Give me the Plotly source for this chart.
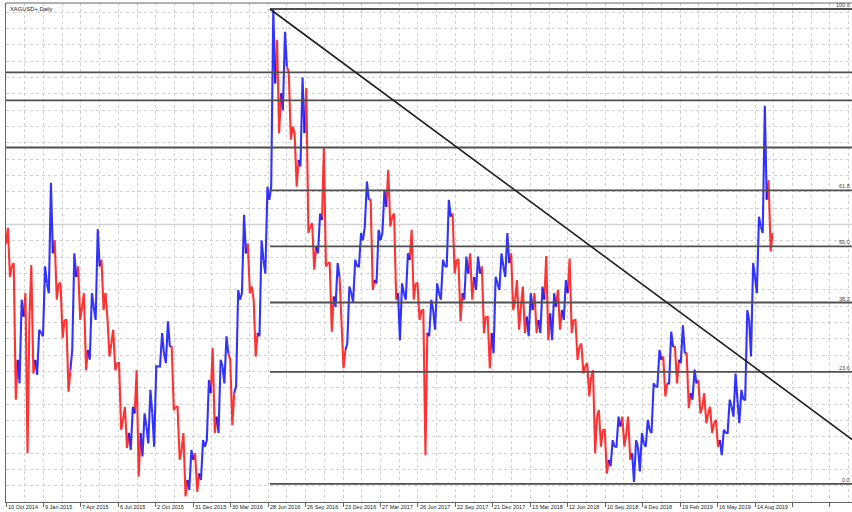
import plotly.graph_objects as go

# ---------------- data ----------------
title_text = "XAGUSD+,Daily"
date_labels = ["10 Oct 2014", "9 Jan 2015", "7 Apr 2015", "6 Jul 2015", "2 Oct 2015",
               "31 Dec 2015", "30 Mar 2016", "28 Jun 2016", "26 Sep 2016", "23 Dec 2016",
               "27 Mar 2017", "26 Jun 2017", "22 Sep 2017", "21 Dec 2017", "13 Mar 2018",
               "12 Jun 2018", "10 Sep 2018", "4 Dec 2018", "19 Feb 2019", "16 May 2019",
               "14 Aug 2019"]
bars_per_label = 64
bars_per_col = 10

first_open = 17.70
high = [17.95, 17.41, 16.85, 16.95, 17.38, 16.39, 17.36, 18.64, 17.76, 17.10,
        16.54, 17.56, 17.36, 16.95, 16.95, 17.93, 17.46, 16.59, 16.39, 15.88,
        15.21, 15.21, 15.77, 15.11, 15.47, 15.83, 16.34, 16.52, 16.13, 15.21,
        14.81, 14.55, 14.50, 14.70, 15.62, 16.11, 15.93, 16.29, 15.93, 17.00,
        18.15, 17.71, 16.85, 17.76, 18.58, 21.30, 20.83, 20.95, 20.34, 19.40,
        20.25, 20.09, 18.02, 18.17, 19.17, 17.41, 17.41, 16.44, 17.05, 17.46,
        17.87, 18.66, 18.38, 17.92, 18.53, 18.84, 18.17, 17.10, 17.56, 17.92,
        17.10, 16.69, 16.85, 17.10, 17.46, 18.38, 18.17, 17.46, 17.51, 17.56,
        17.51, 17.36, 16.59, 17.20, 17.56, 17.87, 17.56, 17.15, 17.05, 16.95,
        16.95, 17.05, 17.52, 16.95, 17.00, 17.15, 17.48, 16.54, 16.18, 15.88,
        15.77, 15.16, 14.86, 14.70, 15.06, 15.06, 15.06, 14.70, 14.81, 15.01,
        15.57, 16.08, 15.98, 16.36, 16.13, 16.46, 16.03, 15.78, 15.62, 15.42,
        15.21, 15.01, 14.86, 15.32, 15.72, 15.47, 16.69, 17.41, 18.12, 19.82,
        18.68]
low = [17.20, 15.32, 15.57, 14.50, 15.72, 15.70, 16.29, 16.95, 16.85, 16.26,
       15.44, 16.08, 16.54, 15.77, 15.93, 16.54, 16.69, 15.98, 15.77, 14.86,
       14.58, 14.55, 14.14, 14.45, 14.65, 14.60, 15.83, 15.88, 15.16, 14.40,
       13.84, 13.94, 13.91, 14.09, 14.70, 14.81, 14.81, 15.57, 14.93, 15.52,
       16.95, 16.95, 15.98, 16.29, 17.25, 18.58, 19.40, 19.75, 19.30, 18.58,
       18.89, 17.87, 17.31, 17.56, 17.36, 16.36, 16.74, 15.80, 16.18, 16.82,
       17.36, 17.97, 17.00, 17.10, 17.87, 17.97, 16.85, 16.23, 16.85, 16.85,
       16.54, 14.47, 16.29, 16.39, 16.85, 17.36, 17.25, 16.52, 16.85, 16.85,
       17.00, 16.34, 15.80, 16.03, 17.00, 17.20, 16.69, 16.39, 16.34, 16.29,
       16.34, 16.34, 16.23, 16.23, 16.39, 16.54, 16.34, 15.93, 15.72, 15.37,
       14.50, 14.60, 14.19, 14.30, 14.60, 14.60, 14.40, 14.06, 14.22, 14.60,
       14.81, 15.52, 15.37, 15.57, 15.57, 15.88, 15.19, 15.32, 15.11, 14.96,
       14.81, 14.60, 14.47, 14.81, 15.06, 14.96, 15.32, 15.98, 16.95, 17.87,
       17.59]
close = [17.36, 15.93, 16.59, 16.54, 15.93, 16.34, 17.10, 17.56, 17.10, 16.54,
         15.77, 17.20, 16.74, 16.08, 16.74, 17.36, 16.95, 16.18, 15.88, 15.01,
         14.81, 15.11, 14.81, 14.91, 15.11, 15.83, 16.03, 16.13, 15.21, 14.55,
         14.09, 14.40, 14.19, 14.60, 15.42, 15.06, 15.83, 16.03, 15.42, 16.85,
         17.56, 17.05, 16.34, 17.46, 18.38, 20.16, 20.01, 20.42, 19.50, 18.99,
         19.40, 17.97, 17.66, 18.07, 17.41, 16.90, 17.20, 16.08, 16.95, 17.36,
         17.76, 18.38, 17.15, 17.76, 18.27, 18.12, 16.95, 16.95, 17.46, 17.10,
         16.69, 16.34, 16.69, 16.95, 17.36, 18.12, 17.46, 16.95, 17.25, 17.20,
         17.25, 16.59, 16.34, 17.10, 17.36, 17.41, 16.85, 16.74, 16.59, 16.69,
         16.54, 16.85, 16.64, 16.74, 16.69, 16.95, 16.54, 16.13, 15.83, 15.67,
         15.06, 14.86, 14.40, 14.60, 14.91, 14.81, 14.50, 14.60, 14.65, 14.86,
         15.52, 15.93, 15.57, 16.13, 15.93, 16.03, 15.42, 15.57, 15.21, 15.11,
         14.96, 14.70, 14.81, 15.21, 15.32, 15.32, 16.54, 17.20, 17.97, 18.38,
         17.87]

# horizontal support/resistance lines (full width)
hlines = [20.33, 19.90, 19.18]
light_line = 18.00
# fibonacci retracement
fib_high = 21.30
fib_low = 14.03
fib_start_bar = 451
fib_levels = [0.0, 23.6, 38.2, 50.0, 61.8, 100.0]
# trend line
trend_x = [451, 1446]
trend_y = [21.30, 14.71]

# ---------------- figure ----------------
open_ = [first_open] + close[:-1]

W, H = 852, 512
ml, mt, mb = 6, 3, 10
px_per_bar = 37.45 / 64
x_max = (W - ml) / px_per_bar
px_per_usd = 65.33
y_top = fib_high + (9 - mt) / px_per_usd
y_bot = y_top - (H - mt - mb) / px_per_usd

# each period is drawn as its open -> extremes -> close stroke
up_x, up_y, dn_x, dn_y = [], [], [], []
half = bars_per_col / 2.0
for i in range(len(close)):
    xc = bars_per_col * i + half
    o, h, l, c = open_[i], high[i], low[i], close[i]
    px = [xc - half, xc - 1.8, xc + 1.8, xc + half]
    if c >= o:
        py = [o, l, h, c]
        up_x += px + [None]
        up_y += py + [None]
    else:
        py = [o, h, l, c]
        dn_x += px + [None]
        dn_y += py + [None]

fig = go.Figure()
fig.add_trace(go.Scatter(x=dn_x, y=dn_y, mode="lines", line=dict(color="#ff1010", width=2.1),
                         opacity=0.85, hoverinfo="skip", showlegend=False))
fig.add_trace(go.Scatter(x=up_x, y=up_y, mode="lines", line=dict(color="#1010ff", width=2.1),
                         opacity=0.85, hoverinfo="skip", showlegend=False))

grid = dict(gridcolor="#d2d2d2", griddash="dot", gridwidth=1)
fig.update_layout(
    width=W, height=H,
    margin=dict(l=ml, r=0, t=mt, b=mb, autoexpand=False),
    paper_bgcolor="white", plot_bgcolor="white",
    showlegend=False,
    xaxis=dict(type="linear", range=[0, x_max], tickmode="linear", tick0=0,
               dtick=bars_per_label, showticklabels=False, ticks="outside",
               ticklen=4, tickcolor="#666666", showline=True, linecolor="#666666",
               linewidth=1, zeroline=False, showgrid=True,
               minor=dict(tickmode="linear", tick0=0, dtick=bars_per_label / 2,
                          showgrid=True, ticks="", **grid),
               **grid),
    yaxis=dict(range=[y_bot, y_top], tickmode="linear", tick0=0, dtick=0.25,
               showticklabels=False, ticks="", showline=True, linecolor="#666666",
               linewidth=1, zeroline=False, showgrid=True, **grid),
)

shapes = []
shapes.append(dict(type="line", xref="paper", yref="paper", x0=0, x1=1, y0=1, y1=1,
                   line=dict(color="#666666", width=1)))
shapes.append(dict(type="line", xref="paper", yref="y", x0=0, x1=1, y0=light_line,
                   y1=light_line, line=dict(color="#d4d4d4", width=1.5), layer="below"))
for v in hlines:
    shapes.append(dict(type="line", xref="paper", yref="y", x0=0, x1=1, y0=v, y1=v,
                       line=dict(color="#505050", width=1.8)))
for lv in fib_levels:
    p = fib_low + lv / 100.0 * (fib_high - fib_low)
    shapes.append(dict(type="line", xref="x", yref="y", x0=fib_start_bar, x1=x_max,
                       y0=p, y1=p, line=dict(color="#505050", width=1.8)))
shapes.append(dict(type="line", xref="x", yref="y", x0=trend_x[0], y0=trend_y[0],
                   x1=trend_x[1], y1=trend_y[1], line=dict(color="#202020", width=1.6)))
fig.update_layout(shapes=shapes)

ann = []
ann.append(dict(text=title_text, xref="paper", yref="paper", x=1.5 / (W - ml), y=1,
                xanchor="left", yanchor="top", yshift=-0.5, showarrow=False,
                font=dict(family="Liberation Sans", size=5.8, color="#222222")))
for k, lab in enumerate(date_labels):
    ann.append(dict(text=lab, xref="x", yref="paper", x=k * bars_per_label + 1.0,
                    y=-4.8 / (H - mt - mb), xanchor="left", yanchor="middle",
                    showarrow=False, borderpad=0,
                    font=dict(family="Liberation Sans", size=5.5, color="#222222")))
label_xp = (851 - ml) / (W - ml)
for lv in fib_levels:
    p = fib_low + lv / 100.0 * (fib_high - fib_low)
    ann.append(dict(text=f"{lv:.1f}", xref="paper", yref="y", x=label_xp, y=p,
                    xanchor="right", yanchor="bottom", showarrow=False, borderpad=0,
                    font=dict(family="Liberation Sans", size=5.5, color="#444444")))
fig.update_layout(annotations=ann)

fig.write_html("out.html", config={"displayModeBar": False},
               post_script="document.body.style.margin='0px';document.body.style.overflow='hidden';")
